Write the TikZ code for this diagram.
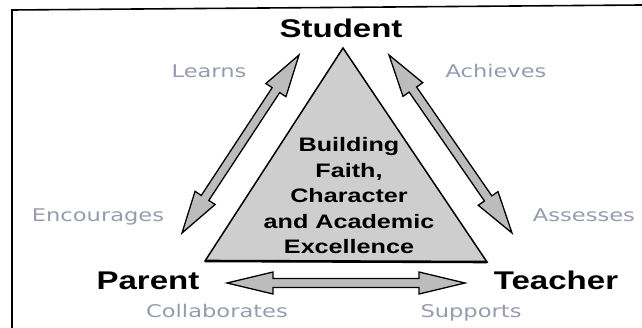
\documentclass[tikz,border=0pt]{standalone}
\usepackage{fontspec}
\setmainfont{Liberation Sans}
\newfontfamily\verbfont{DejaVu Sans}
\usepackage{tikz}
\usetikzlibrary{positioning, calc}

\definecolor{verbgray}{RGB}{150,156,174}
\definecolor{arrowgray}{RGB}{188,188,188}
\definecolor{coregray}{RGB}{206,206,206}

\begin{document}
\begin{tikzpicture}[
    x=1pt, y=-1pt, % pixel grid, y downwards
    role/.style={font=\bfseries\fontsize{25.6}{30}\selectfont, xscale=1.29, inner sep=0pt, anchor=base},
    verb/.style={font=\verbfont\fontsize{17.5}{21}\selectfont, text=verbgray, xscale=1.29, inner sep=0pt, anchor=base},
    blockarrow/.style n args={3}{draw=black, line width=1.3pt, fill=arrowgray, line join=miter,
        to path={
            -- ($(\tikztostart)!#1!(\tikztotarget)!#2!90:(\tikztotarget)$)
            -- ($(\tikztostart)!#1!(\tikztotarget)!#3!90:(\tikztotarget)$)
            -- ($(\tikztotarget)!#1!(\tikztostart)!#3!-90:(\tikztostart)$)
            -- ($(\tikztotarget)!#1!(\tikztostart)!#2!-90:(\tikztostart)$)
            -- (\tikztotarget)
            -- ($(\tikztotarget)!#1!(\tikztostart)!#2!90:(\tikztostart)$)
            -- ($(\tikztotarget)!#1!(\tikztostart)!#3!90:(\tikztostart)$)
            -- ($(\tikztostart)!#1!(\tikztotarget)!#3!-90:(\tikztotarget)$)
            -- ($(\tikztostart)!#1!(\tikztotarget)!#2!-90:(\tikztotarget)$)
            -- cycle}}
]
    \useasboundingbox (0,0) rectangle (642,328);

    % 1. Frame (only left and top edges show)
    \draw[line width=1.6pt] (12,328) -- (12,10) -- (642,5);

    % 2. The triangle and its text
    \coordinate (apex) at (343,48);
    \coordinate (bl) at (205,261);
    \coordinate (br) at (487,262);
    \draw[line width=1.5pt, fill=coregray, line join=miter] (apex) -- (br) -- (bl) -- cycle;
    \draw[line width=2.6pt] (bl) -- (br); % heavier base

    \node[align=center, font=\bfseries\fontsize{19.5}{25.5}\selectfont, xscale=1.29, inner sep=0pt]
        (core) at (349,196) {Building\\Faith,\\Character\\and Academic\\Excellence};

    % 3. The three roles
    \node[role] (student) at (341,38) {Student};
    \node[role] (parent) at (148,290) {Parent};
    \node[role] (teacher) at (556,290) {Teacher};

    % 4. Arrow end points
    \coordinate (sp1) at (299,55);  % student side, left
    \coordinate (sp2) at (182,233); % parent side
    \coordinate (st1) at (389,55);  % student side, right
    \coordinate (st2) at (512,233); % teacher side
    \coordinate (pt1) at (227,283); % parent side, bottom
    \coordinate (pt2) at (465,283); % teacher side, bottom

    % 5. Draw the arrows
    \draw[blockarrow={42pt}{12pt}{4.5pt}] (sp1) to (sp2);
    \draw[blockarrow={42pt}{12pt}{4.5pt}] (st1) to (st2);
    \draw[blockarrow={46pt}{11pt}{4.5pt}] (pt1) to (pt2);

    % 6. What each one does
    \node[verb] (learns) at (209,78) {Learns};
    \node[verb] (achieves) at (496,78) {Achieves};
    \node[verb] (encourages) at (98,222) {Encourages};
    \node[verb] (assesses) at (584,222) {Assesses};
    \node[verb] (collab) at (217,318) {Collaborates};
    \node[verb] (supports) at (471,318) {Supports};

\end{tikzpicture}
\end{document}
